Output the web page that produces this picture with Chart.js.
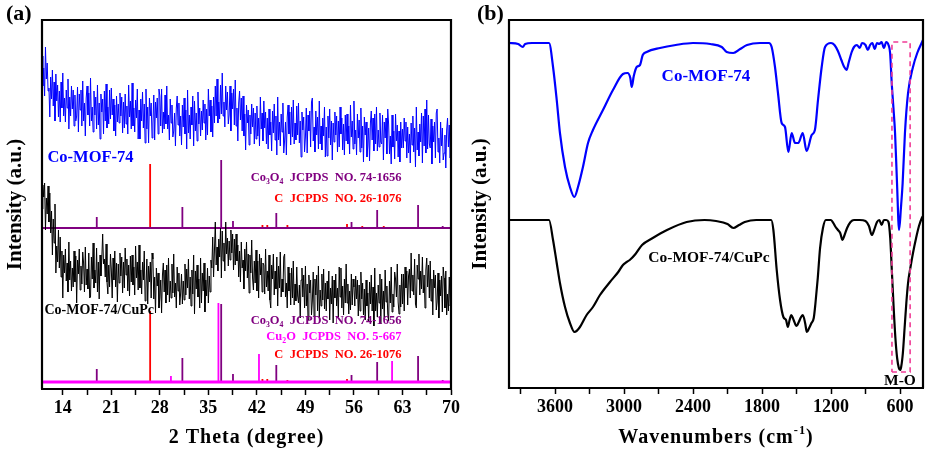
<!DOCTYPE html>
<html>
<head>
<meta charset="utf-8">
<script src="https://cdn.jsdelivr.net/npm/chart.js@4.4.1/dist/chart.umd.min.js"></script>
<style>
    html, body { margin: 0; padding: 0; background: #fff; }
    #wrap { position: relative; width: 927px; height: 459px; }
    #xrdChart { position: absolute; left: 0; top: 0; }
    #ftirChart { position: absolute; left: 463px; top: 0; }
</style>
</head>
<body>
<div id="wrap">
    <canvas id="xrdChart" width="463" height="459"></canvas>
    <canvas id="ftirChart" width="464" height="459"></canvas>
</div>
<script>
// ---------- (a) XRD: scan from 11 deg, step 0.125 deg ----------
const scanStart = 11;
const scanStep = 0.125;

// Co-MOF-74 (offset trace, a.u.), one row = 5 deg
const mofXrd = [
    333, 303, 321, 293, 342, 310, 326, 298, 301, 272, 312, 290, 319, 283, 307, 268, 315, 288, 304, 272,
    298, 267, 307, 281, 316, 273, 291, 267, 299, 281, 310, 260, 292, 273, 303, 280, 299, 263, 294, 268,
    273, 302, 257, 295, 279, 299, 263, 308, 268, 286, 253, 291, 303, 274, 296, 263, 311, 268, 282, 257,
    298, 274, 292, 260, 304, 264, 286, 250, 295, 277, 290, 255, 298, 268, 305, 261, 282, 265, 299, 270,
    301, 274, 290, 258, 284, 253, 293, 267, 285, 266, 296, 273, 292, 256, 287, 261, 295, 265, 283, 255,
    304, 272, 288, 260, 306, 263, 281, 257, 289, 271, 300, 250, 279, 250, 290, 268, 297, 261, 285, 246,
    300, 260, 282, 246, 291, 273, 286, 251, 265, 294, 249, 287, 271, 291, 255, 300, 293, 263, 300, 256,
    277, 260, 294, 265, 303, 260, 274, 249, 290, 266, 284, 252, 258, 276, 243, 281, 293, 264, 286, 253,
    273, 244, 284, 262, 291, 255, 279, 240, 299, 256, 274, 250, 282, 264, 293, 243, 288, 258, 276, 248,
    297, 265, 281, 253, 278, 259, 289, 266, 285, 249, 280, 254, 300, 273, 289, 257, 283, 252, 292, 266,
    303, 273, 310, 266, 287, 270, 304, 275, 316, 273, 287, 262, 303, 279, 297, 265, 274, 303, 258, 296,
    280, 300, 264, 309, 263, 281, 248, 286, 298, 269, 291, 258, 293, 253, 275, 239, 284, 266, 279, 244,
    274, 255, 285, 262, 281, 245, 276, 250, 283, 253, 271, 243, 292, 260, 276, 248, 288, 261, 277, 245,
    271, 240, 280, 254, 267, 238, 278, 256, 285, 249, 273, 234, 292, 249, 267, 243, 275, 257, 286, 236,
    249, 267, 234, 272, 284, 255, 277, 244, 282, 252, 289, 245, 266, 249, 283, 254, 286, 246, 268, 232,
    277, 259, 272, 237, 252, 281, 236, 274, 258, 278, 242, 287, 291, 248, 262, 237, 278, 254, 272, 240,
    288, 245, 263, 239, 271, 253, 282, 232, 262, 233, 273, 251, 280, 244, 268, 229, 266, 247, 277, 254,
    273, 237, 268, 242, 282, 255, 271, 239, 265, 234, 274, 248, 275, 245, 263, 235, 284, 252, 268, 240,
    288, 245, 259, 234, 275, 251, 269, 237, 281, 241, 263, 227, 272, 254, 267, 232, 243, 261, 228, 266,
    278, 249, 271, 238, 275, 245, 282, 238, 259, 242, 276, 247, 245, 274, 229, 267, 251, 271, 235, 280,
    265, 235, 253, 225, 274, 242, 258, 230, 275, 248, 264, 232, 258, 227, 267, 241, 260, 241, 271, 248,
    267, 231, 262, 236, 255, 226, 266, 244, 273, 237, 261, 222, 282, 239, 257, 233, 265, 247, 276, 226,
    273, 243, 280, 236, 289, 240, 274, 245, 241, 270, 225, 263, 247, 267, 231, 276, 280, 237, 251, 226,
    267, 243, 261, 229, 236, 254, 221, 259, 271, 242, 264, 231, 252
];

// Co-MOF-74/CuPc (offset trace, a.u.), one row = 5 deg
const cupcXrd = [
    180, 204, 192, 206, 159, 191, 175, 203, 167, 196, 156, 178, 134, 170, 146, 185, 116, 143, 127, 159,
    121, 152, 112, 138, 91, 134, 116, 140, 108, 126, 97, 147, 109, 128, 98, 121, 102, 138, 107, 133,
    86, 129, 115, 140, 99, 123, 105, 137, 126, 97, 142, 104, 120, 100, 136, 91, 92, 132, 110, 146,
    101, 119, 106, 141, 97, 127, 90, 134, 113, 130, 155, 125, 130, 112, 145, 107, 95, 124, 102, 135,
    120, 91, 131, 109, 138, 102, 126, 87, 125, 106, 136, 113, 132, 96, 127, 101, 141, 114, 130, 98,
    124, 93, 133, 107, 134, 104, 122, 94, 143, 111, 127, 99, 144, 101, 119, 95, 127, 109, 138, 88,
    101, 130, 85, 123, 107, 127, 91, 136, 130, 90, 112, 76, 121, 103, 116, 81, 91, 109, 76, 114,
    126, 97, 119, 86, 124, 94, 131, 87, 108, 91, 125, 96, 135, 92, 106, 81, 122, 98, 116, 84,
    96, 115, 85, 108, 89, 125, 94, 120, 101, 130, 90, 112, 83, 119, 95, 134, 75, 118, 100, 124,
    92, 110, 81, 131, 86, 116, 98, 126, 77, 109, 93, 121, 86, 113, 97, 129, 121, 152, 112, 138,
    167, 124, 142, 118, 150, 132, 161, 111, 158, 128, 146, 118, 167, 135, 151, 123, 148, 129, 159, 136,
    155, 119, 150, 124, 155, 128, 144, 112, 138, 107, 147, 121, 129, 100, 140, 118, 147, 111, 135, 96,
    134, 116, 149, 111, 99, 128, 106, 139, 98, 128, 91, 135, 114, 131, 97, 126, 124, 95, 140, 102,
    118, 98, 134, 89, 81, 124, 110, 135, 94, 118, 100, 132, 83, 123, 101, 137, 92, 110, 97, 132,
    135, 92, 106, 81, 122, 98, 116, 84, 121, 91, 128, 84, 105, 88, 122, 93, 86, 104, 71, 109,
    121, 92, 114, 81, 123, 83, 105, 69, 114, 96, 109, 74, 88, 117, 72, 110, 94, 114, 78, 123,
    72, 99, 83, 115, 89, 120, 80, 106, 78, 108, 90, 118, 69, 101, 85, 113, 66, 109, 91, 115,
    83, 101, 72, 122, 92, 121, 81, 103, 74, 110, 86, 125, 86, 105, 75, 98, 79, 115, 84, 110,
    102, 83, 113, 90, 109, 73, 104, 78, 117, 90, 106, 74, 100, 69, 109, 83, 96, 67, 107, 85,
    114, 78, 102, 63, 121, 78, 96, 72, 104, 86, 115, 65, 110, 80, 98, 70, 119, 87, 103, 75,
    68, 108, 86, 122, 77, 95, 82, 117, 110, 92, 125, 87, 75, 104, 82, 115, 85, 115, 78, 122,
    101, 118, 84, 113, 120, 91, 136, 98, 114, 94, 130, 85, 81, 124, 110, 135, 94, 118, 100, 132,
    96, 114, 81, 119, 131, 102, 124, 91, 128, 88, 110, 74, 119, 101, 114, 79, 87, 116, 71, 109,
    93, 113, 77, 122, 111, 81, 118, 74, 95, 78, 112, 83, 89
];

// reference patterns (stick heights above their baselines)
const topBase = 161;
const botBase = 7;
const co3o4Pos = [18.9, 31.25, 36.85, 38.55, 44.8, 55.65, 59.35, 65.25, 68.8];
const co3o4TopH = [11, 21, 68, 7, 15, 6, 18, 23, 2];
const co3o4BotH = [13, 24, 78, 8, 17, 7, 20, 26, 2];
const carbonPos = [26.6, 42.8, 43.5, 46.4, 55.0, 57.2, 60.3];
const carbonTopH = [64, 3, 3, 3, 4, 2, 2];
const carbonBotH = [71, 3, 3, 2, 3, 1, 1];
const cu2oPos = [29.6, 36.45, 42.3, 61.5];
const cu2oH = [6, 79, 28, 21];

const xrdRange = [11, 70];
const xrdIntRange = [0, 369];
const xrdTicks = [14, 17.5, 21, 24.5, 28, 31.5, 35, 38.5, 42, 45.5, 49, 52.5, 56, 59.5, 63, 66.5, 70];
const xrdMajor = [14, 21, 28, 35, 42, 49, 56, 63, 70];

// ---------- (b) FTIR ----------
const mofWn = [4000, 3920, 3880, 3860, 3800, 3700, 3652, 3617, 3585, 3557, 3513, 3470, 3432, 3400, 3357, 3313,
    3270, 3183, 3096, 3009, 2970, 2945, 2933, 2915, 2890, 2861, 2837, 2803, 2687, 2550, 2400, 2250, 2150, 2107,
    2050, 1990, 1930, 1817, 1740, 1716, 1687, 1661, 1629, 1600, 1571, 1542, 1513, 1484, 1446, 1412, 1368, 1340,
    1313, 1281, 1252, 1200, 1170, 1140, 1110, 1085, 1065, 1045, 1020, 1000, 975, 950, 930, 900, 880, 860, 840,
    820, 800, 780, 760, 740, 720, 700, 686, 672, 657, 643, 626, 608, 592, 577, 557, 530, 487, 450, 412, 400];
const mofIr = [345, 344, 341, 344, 345, 345, 345, 321, 288, 255, 221, 201, 191, 201, 221, 245,
    258, 278, 298, 314, 315, 310, 301, 312, 321, 323, 333, 336, 340, 343, 345, 344, 341, 336,
    335, 339, 343, 345, 345, 341, 321, 295, 265, 261, 236, 255, 245, 245, 255, 237, 253, 258,
    288, 321, 341, 345, 343, 337, 328, 321, 318, 326, 336, 341, 343, 340, 345, 343, 338, 343, 345,
    339, 345, 344, 346, 340, 346, 343, 335, 305, 280, 255, 205, 158, 180, 205, 255, 295, 321, 335, 345, 348];

const cupcWn = [4000, 3700, 3652, 3617, 3585, 3557, 3513, 3470, 3430, 3383, 3325, 3270, 3209, 3122, 3050, 3009,
    2977, 2950, 2900, 2843, 2750, 2626, 2455, 2300, 2200, 2100, 2050, 2000, 1950, 1850, 1720, 1701, 1672, 1643,
    1614, 1591, 1575, 1560, 1545, 1525, 1500, 1480, 1460, 1445, 1425, 1410, 1390, 1370, 1350, 1335, 1315, 1295,
    1270, 1245, 1200, 1180, 1160, 1140, 1120, 1100, 1085, 1060, 1030, 1000, 950, 900, 870, 845, 825, 800, 780,
    760, 740, 720, 700, 685, 670, 655, 640, 625, 610, 600, 590, 575, 560, 545, 530, 510, 487, 460, 435, 410, 400];
const cupcIr = [168, 168, 168, 148, 125, 105, 81, 65, 56, 61, 73, 81, 93, 106, 116, 123,
    126, 128, 134, 143, 150, 158, 166, 168, 167, 164, 160, 163, 166, 168, 168, 158, 118, 88,
    71, 68, 61, 68, 73, 68, 62, 66, 71, 73, 65, 56, 60, 65, 70, 85, 110, 140,
    160, 168, 168, 165, 161, 158, 155, 148, 152, 160, 166, 168, 168, 167, 162, 153, 158, 166, 168,
    163, 168, 168, 166, 150, 115, 80, 50, 30, 20, 18, 21, 35, 60, 85, 105, 120, 135, 150, 162, 170, 172];

// M-O region box
const boxWn = [670, 512];
const boxIr = [16, 346];

const ftirRange = [400, 4000];
const ftirIntRange = [0, 368];
const ftirTicks = [3900, 3600, 3300, 3000, 2700, 2400, 2100, 1800, 1500, 1200, 900, 600];
const ftirMajor = [3600, 3000, 2400, 1800, 1200, 600];

// ---------- helpers ----------
const serif = '"Liberation Serif", "Times New Roman", serif';
const purple = '#800080', red = '#FF0000', pink = '#FF00FF', blue = '#0000FF';

function scanPoints(values) {
    return values.map((v, i) => ({ x: scanStart + i * scanStep, y: v }));
}

function sticks(pos, h, base) {
    const pts = [];
    pos.forEach((p, i) => {
        pts.push({ x: p, y: base }, { x: p, y: base + h[i] }, { x: p, y: null });
    });
    return pts;
}

function pairUp(xs, ys) {
    const n = Math.min(xs.length, ys.length);
    return xs.slice(0, n).map((x, i) => ({ x: x, y: ys[i] }));
}

function rectPoints(xs, ys) {
    return [
        { x: xs[0], y: ys[0] }, { x: xs[1], y: ys[0] },
        { x: xs[1], y: ys[1] }, { x: xs[0], y: ys[1] },
        { x: xs[0], y: ys[0] }
    ];
}

function line(data, color, width, extra) {
    return Object.assign({
        data: data, borderColor: color, borderWidth: width,
        pointRadius: 0, fill: false, tension: 0, spanGaps: false
    }, extra || {});
}

// plot box along the axis limits
function frameSet(xs, ys) {
    return line(rectPoints(xs, ys), '#000', 2.2, { clip: false });
}

// text with sub/superscripts
function drawRich(ctx, parts, x, y, size, color, align, spacing) {
    ctx.textBaseline = 'middle';
    ctx.textAlign = 'left';
    ctx.fillStyle = color;
    ctx.letterSpacing = (spacing || 0) + 'px';
    const fontFor = p => 'bold ' + ((p.sub || p.sup) ? size * 0.62 : size) + 'px ' + serif;
    let w = 0;
    parts.forEach(p => { ctx.font = fontFor(p); w += ctx.measureText(p.t).width; });
    let cx = align === 'center' ? x - w / 2 : (align === 'right' ? x - w : x);
    parts.forEach(p => {
        ctx.font = fontFor(p);
        const dy = p.sub ? size * 0.3 : (p.sup ? -size * 0.38 : 0);
        ctx.fillText(p.t, cx, y + dy);
        cx += ctx.measureText(p.t).width;
    });
    ctx.letterSpacing = '0px';
}

const decor = {
    id: 'decor',
    afterDraw(chart, args, opts) {
        const { ctx, chartArea: a } = chart;
        ctx.save();
        (opts.labels || []).forEach(l => {
            const x = chart.scales.x.getPixelForValue(l.x);
            const y = chart.scales.y.getPixelForValue(l.y);
            drawRich(ctx, l.parts, x, y, l.size, l.color, l.align);
        });
        drawRich(ctx, [{ t: opts.panel }], opts.panelX, 14, 22, '#000', 'left');
        drawRich(ctx, opts.xTitle, (a.left + a.right) / 2, 438, 20, '#000', 'center', 1);
        ctx.restore();
    }
};

function xScale(range, ticks, major, reverse, height) {
    return {
        type: 'linear', min: range[0], max: range[1], reverse: reverse,
        afterBuildTicks: s => { s.ticks = ticks.map(v => ({ value: v })); },
        afterFit: s => { s.height = height; },
        ticks: {
            autoSkip: false, maxRotation: 0, padding: 3, color: '#000',
            font: { family: serif, size: 18, weight: 'bold' },
            callback: v => major.includes(v) ? String(v) : ''
        },
        grid: { drawOnChartArea: false, drawTicks: true, tickLength: 6, tickWidth: 1.5, tickColor: '#000' },
        border: { display: true, color: '#000', width: 2 }
    };
}

function yScale(range, width, pad) {
    return {
        min: range[0], max: range[1],
        afterFit: s => { s.width = width; },
        ticks: { display: false },
        grid: { display: false, drawTicks: false },
        border: { display: true, color: '#000', width: 2 },
        title: {
            display: true, text: 'Intensity (a.u.)', color: '#000',
            font: { family: serif, size: 21, weight: 'bold' },
            padding: { top: pad, bottom: 0 }
        }
    };
}

// ---------- chart (a) ----------
document.addEventListener('DOMContentLoaded', function () {
    const xrdCtx = document.getElementById('xrdChart').getContext('2d');
    new Chart(xrdCtx, {
        type: 'line',
        data: {
            datasets: [
                frameSet(xrdRange, xrdIntRange),
                line(scanPoints(mofXrd), blue, 1),
                line(scanPoints(cupcXrd), '#000', 1),
                line([{ x: 11, y: topBase }, { x: 70, y: topBase }], purple, 2),
                line(sticks(co3o4Pos, co3o4TopH, topBase), purple, 1.8),
                line(sticks(carbonPos, carbonTopH, topBase), red, 1.8),
                line([{ x: 11, y: botBase }, { x: 70, y: botBase }], pink, 3),
                line(sticks(cu2oPos, cu2oH, botBase), pink, 1.8),
                line(sticks(co3o4Pos, co3o4BotH, botBase), purple, 1.8),
                line(sticks(carbonPos, carbonBotH, botBase), red, 1.8)
            ]
        },
        options: {
            responsive: false,
            animation: false,
            layout: { padding: { left: 0, right: 10, top: 20, bottom: 0 } },
            scales: {
                x: xScale(xrdRange, xrdTicks, xrdMajor, false, 70),
                y: yScale(xrdIntRange, 42, 3)
            },
            plugins: {
                legend: { display: false },
                tooltip: { enabled: false },
                decor: {
                    panel: '(a)', panelX: 6,
                    xTitle: [{ t: '2 Theta (degree)' }],
                    labels: [
                        { x: 11.78, y: 231, size: 16.5, color: blue, align: 'left', parts: [{ t: 'Co-MOF-74' }] },
                        { x: 62.85, y: 211, size: 12.5, color: purple, align: 'right',
                          parts: [{ t: 'Co' }, { t: '3', sub: 1 }, { t: 'O' }, { t: '4', sub: 1 }, { t: '  JCPDS  NO. 74-1656' }] },
                        { x: 62.85, y: 190, size: 12.5, color: red, align: 'right', parts: [{ t: 'C  JCPDS  NO. 26-1076' }] },
                        { x: 11.35, y: 79, size: 14, color: '#000', align: 'left', parts: [{ t: 'Co-MOF-74/CuPc' }] },
                        { x: 62.85, y: 68, size: 12.5, color: purple, align: 'right',
                          parts: [{ t: 'Co' }, { t: '3', sub: 1 }, { t: 'O' }, { t: '4', sub: 1 }, { t: '  JCPDS  NO. 74-1656' }] },
                        { x: 62.85, y: 52, size: 12.5, color: pink, align: 'right',
                          parts: [{ t: 'Cu' }, { t: '2', sub: 1 }, { t: 'O  JCPDS  NO. 5-667' }] },
                        { x: 62.85, y: 34, size: 12.5, color: red, align: 'right', parts: [{ t: 'C  JCPDS  NO. 26-1076' }] }
                    ]
                }
            }
        },
        plugins: [decor]
    });

    // ---------- chart (b) ----------
    const ftirCtx = document.getElementById('ftirChart').getContext('2d');
    new Chart(ftirCtx, {
        type: 'line',
        data: {
            datasets: [
                frameSet(ftirRange, ftirIntRange),
                line(rectPoints(boxWn, boxIr), '#F03C96', 1.6, { borderDash: [5, 4] }),
                line(pairUp(mofWn, mofIr), blue, 2.2, { cubicInterpolationMode: 'monotone' }),
                line(pairUp(cupcWn, cupcIr), '#000', 2.2, { cubicInterpolationMode: 'monotone' })
            ]
        },
        options: {
            responsive: false,
            animation: false,
            layout: { padding: { left: 0, right: 4, top: 20, bottom: 0 } },
            scales: {
                x: xScale(ftirRange, ftirTicks, ftirMajor, true, 71),
                y: yScale(ftirIntRange, 46, 5)
            },
            plugins: {
                legend: { display: false },
                tooltip: { enabled: false },
                decor: {
                    panel: '(b)', panelX: 14,
                    xTitle: [{ t: 'Wavenumbers (cm' }, { t: '-1', sup: 1 }, { t: ')' }],
                    labels: [
                        { x: 2287, y: 311, size: 17, color: blue, align: 'center', parts: [{ t: 'Co-MOF-74' }] },
                        { x: 2261, y: 130, size: 15.5, color: '#000', align: 'center', parts: [{ t: 'Co-MOF-74/CuPc' }] },
                        { x: 600, y: 7, size: 15.5, color: '#000', align: 'center', parts: [{ t: 'M-O' }] }
                    ]
                }
            }
        },
        plugins: [decor]
    });
});
</script>
</body>
</html>
